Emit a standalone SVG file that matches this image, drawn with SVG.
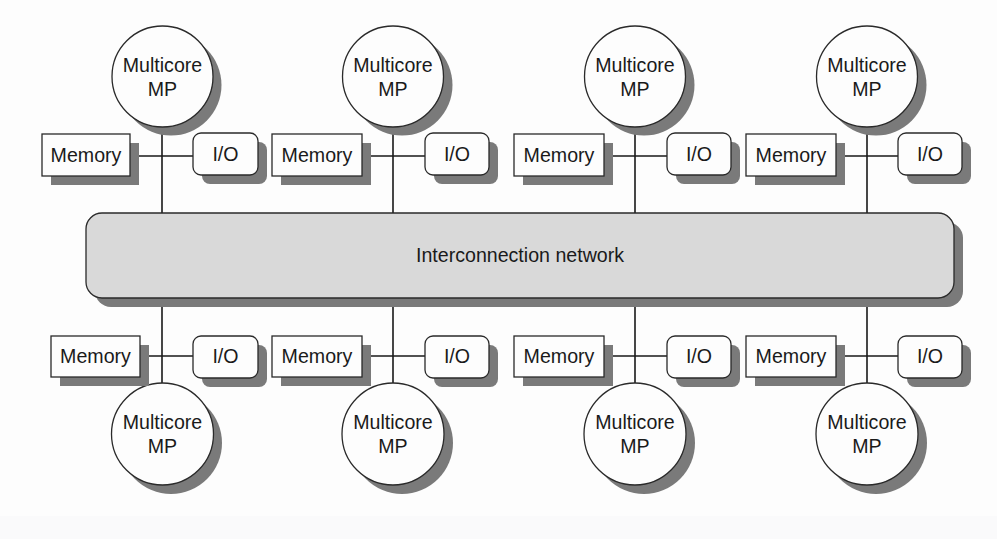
<svg xmlns="http://www.w3.org/2000/svg" width="997" height="539" viewBox="0 0 997 539">
<style>
.bg{fill:#fdfdfd}
.sh{fill:#7a7a7a;stroke:none}
.nd{fill:#fdfdfd;stroke:#2a2a2a;stroke-width:1.3}
.net{fill:#d9d9d9;stroke:#2a2a2a;stroke-width:1.3}
.ln{stroke:#1a1a1a;stroke-width:1.6;fill:none}
text{font-family:"Liberation Sans",Arial,sans-serif;font-size:19.6px;fill:#1a1a1a;text-anchor:middle}
</style>
<rect class="bg" x="0" y="0" width="997" height="539"/>
<rect x="0" y="516" width="997" height="23" fill="#fafafb"/>

<g id="connectors">
  <path class="ln" d="M162 127V213M130 156H193"/>
  <path class="ln" d="M393 127V213M362 156H425"/>
  <path class="ln" d="M635 127V213M604 156H667"/>
  <path class="ln" d="M867 127V213M836 156H898"/>
  <path class="ln" d="M162 298V383M140 356H193"/>
  <path class="ln" d="M393 298V383M362 356H425"/>
  <path class="ln" d="M635 298V383M604 356H667"/>
  <path class="ln" d="M867 298V383M836 356H898"/>
</g>

<g id="network">
  <rect class="sh" x="95" y="222" width="868" height="85" rx="16"/>
  <rect class="net" x="86" y="213" width="868" height="85" rx="16"/>
  <text x="520" y="262">Interconnection network</text>
</g>

<!-- top row -->
<g id="mp-top-1"><circle class="sh" cx="171" cy="85" r="50.5"/><circle class="nd" cx="162.5" cy="76.5" r="50.5"/><text x="162.5" y="72">Multicore</text><text x="162.5" y="96">MP</text></g>
<g id="mem-top-1"><rect class="sh" x="51" y="143" width="88" height="42"/><rect class="nd" x="42" y="134" width="88" height="42"/><text x="86" y="162">Memory</text></g>
<g id="io-top-1"><rect class="sh" x="202" y="142" width="65" height="42" rx="8"/><rect class="nd" x="193" y="133" width="65" height="42" rx="8"/><text x="225.5" y="161">I/O</text></g>

<g id="mp-top-2"><circle class="sh" cx="402" cy="85" r="50.5"/><circle class="nd" cx="393" cy="76.5" r="50.5"/><text x="393" y="72">Multicore</text><text x="393" y="96">MP</text></g>
<g id="mem-top-2"><rect class="sh" x="281" y="143" width="90" height="42"/><rect class="nd" x="272" y="134" width="90" height="42"/><text x="317" y="162">Memory</text></g>
<g id="io-top-2"><rect class="sh" x="434" y="142" width="64" height="42" rx="8"/><rect class="nd" x="425" y="133" width="64" height="42" rx="8"/><text x="457" y="161">I/O</text></g>

<g id="mp-top-3"><circle class="sh" cx="644" cy="85" r="50.5"/><circle class="nd" cx="635" cy="76.5" r="50.5"/><text x="635" y="72">Multicore</text><text x="635" y="96">MP</text></g>
<g id="mem-top-3"><rect class="sh" x="523" y="143" width="90" height="42"/><rect class="nd" x="514" y="134" width="90" height="42"/><text x="559" y="162">Memory</text></g>
<g id="io-top-3"><rect class="sh" x="676" y="142" width="64" height="42" rx="8"/><rect class="nd" x="667" y="133" width="64" height="42" rx="8"/><text x="699" y="161">I/O</text></g>

<g id="mp-top-4"><circle class="sh" cx="876" cy="85" r="50.5"/><circle class="nd" cx="867" cy="76.5" r="50.5"/><text x="867" y="72">Multicore</text><text x="867" y="96">MP</text></g>
<g id="mem-top-4"><rect class="sh" x="755" y="143" width="90" height="42"/><rect class="nd" x="746" y="134" width="90" height="42"/><text x="791" y="162">Memory</text></g>
<g id="io-top-4"><rect class="sh" x="907" y="142" width="64" height="42" rx="8"/><rect class="nd" x="898" y="133" width="64" height="42" rx="8"/><text x="930" y="161">I/O</text></g>

<!-- bottom row -->
<g id="mp-bot-1"><circle class="sh" cx="171" cy="443" r="51"/><circle class="nd" cx="162.5" cy="434" r="51"/><text x="162.5" y="429">Multicore</text><text x="162.5" y="453">MP</text></g>
<g id="mem-bot-1"><rect class="sh" x="60" y="345" width="89" height="41"/><rect class="nd" x="51" y="336" width="89" height="41"/><text x="95.5" y="363">Memory</text></g>
<g id="io-bot-1"><rect class="sh" x="202" y="345" width="65" height="42" rx="8"/><rect class="nd" x="193" y="336" width="65" height="42" rx="8"/><text x="225.5" y="363">I/O</text></g>

<g id="mp-bot-2"><circle class="sh" cx="402" cy="443" r="51"/><circle class="nd" cx="393" cy="434" r="51"/><text x="393" y="429">Multicore</text><text x="393" y="453">MP</text></g>
<g id="mem-bot-2"><rect class="sh" x="281" y="345" width="90" height="41"/><rect class="nd" x="272" y="336" width="90" height="41"/><text x="317" y="363">Memory</text></g>
<g id="io-bot-2"><rect class="sh" x="434" y="345" width="64" height="42" rx="8"/><rect class="nd" x="425" y="336" width="64" height="42" rx="8"/><text x="457" y="363">I/O</text></g>

<g id="mp-bot-3"><circle class="sh" cx="644" cy="443" r="51"/><circle class="nd" cx="635" cy="434" r="51"/><text x="635" y="429">Multicore</text><text x="635" y="453">MP</text></g>
<g id="mem-bot-3"><rect class="sh" x="523" y="345" width="90" height="41"/><rect class="nd" x="514" y="336" width="90" height="41"/><text x="559" y="363">Memory</text></g>
<g id="io-bot-3"><rect class="sh" x="676" y="345" width="64" height="42" rx="8"/><rect class="nd" x="667" y="336" width="64" height="42" rx="8"/><text x="699" y="363">I/O</text></g>

<g id="mp-bot-4"><circle class="sh" cx="876" cy="443" r="51"/><circle class="nd" cx="867" cy="434" r="51"/><text x="867" y="429">Multicore</text><text x="867" y="453">MP</text></g>
<g id="mem-bot-4"><rect class="sh" x="755" y="345" width="90" height="41"/><rect class="nd" x="746" y="336" width="90" height="41"/><text x="791" y="363">Memory</text></g>
<g id="io-bot-4"><rect class="sh" x="907" y="345" width="64" height="42" rx="8"/><rect class="nd" x="898" y="336" width="64" height="42" rx="8"/><text x="930" y="363">I/O</text></g>
</svg>
